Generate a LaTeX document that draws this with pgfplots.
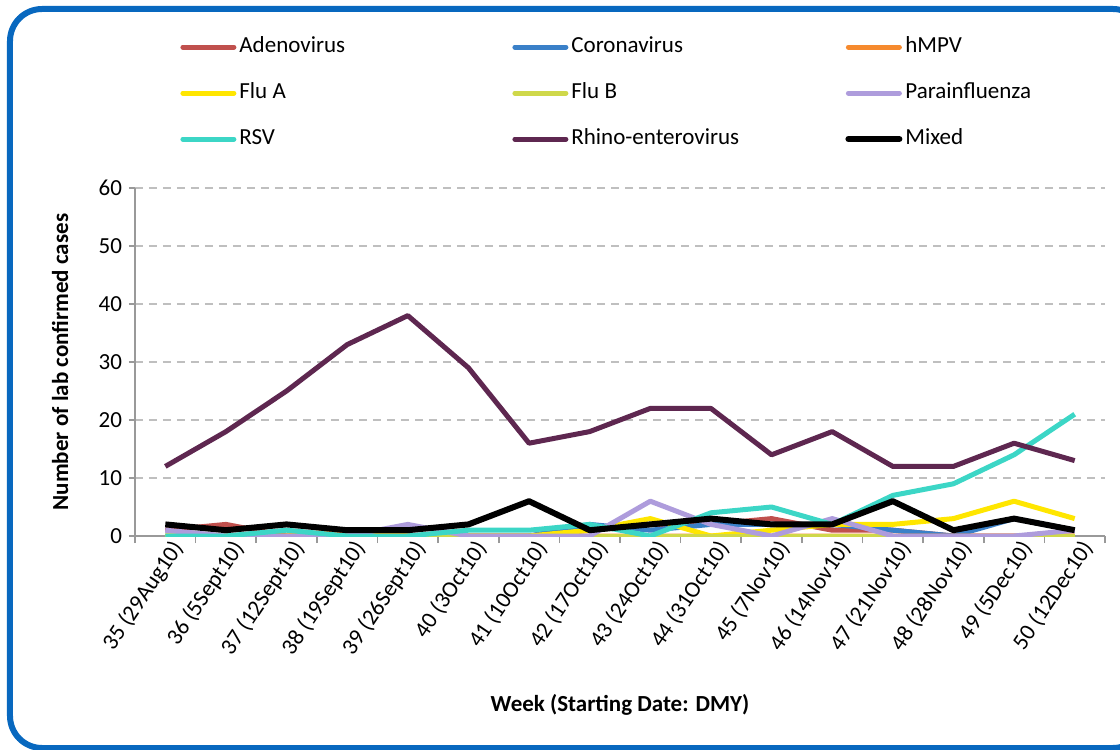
\documentclass[border=0pt]{standalone}
\usepackage{pgfplots}
\pgfplotsset{compat=1.18}
\usepackage{fontspec}
\setmainfont{Carlito}
\definecolor{cAdeno}{HTML}{C0504D}
\definecolor{cCorona}{HTML}{3A80C8}
\definecolor{cHmpv}{HTML}{F68A2E}
\definecolor{cFluA}{HTML}{FFE600}
\definecolor{cFluB}{HTML}{CFD84A}
\definecolor{cPara}{HTML}{AE9CDC}
\definecolor{cRsv}{HTML}{3CD6C6}
\definecolor{cRhino}{HTML}{5E2750}
\definecolor{cFrame}{HTML}{0868BF}

\begin{document}
\begin{tikzpicture}
\begin{axis}[
  scale only axis, width=485pt, height=174pt,
  font=\fontsize{11.5}{13}\selectfont,
  /pgf/number format/assume math mode=true,
  xmin=0.5, xmax=16.5, ymin=0, ymax=60,
  xtick={1,...,16},
  xticklabels={35 (29Aug10),36 (5Sept10),37 (12Sept10),38 (19Sept10),39 (26Sept10),40 (3Oct10),41 (10Oct10),42 (17Oct10),43 (24Oct10),44 (31Oct10),45 (7Nov10),46 (14Nov10),47 (21Nov10),48 (28Nov10),49 (5Dec10),50 (12Dec10)},
  xticklabel style={rotate=56, anchor=east, inner sep=0pt, xshift=3pt, yshift=-6pt},
  major x tick style={draw=none},
  minor xtick={0.5,1.5,...,16.5},
  minor x tick style={gray!80, line width=0.8pt},
  ytick={0,10,...,60},
  tick align=outside,
  major tick length=3pt, minor tick length=3.5pt,
  y tick style={gray!80, line width=0.8pt},
  axis x line*=bottom, axis y line*=left,
  axis line style={gray!80, line width=0.8pt, -},
  ymajorgrids, grid style={gray!50, dashed, line width=0.7pt, dash pattern=on 4pt off 3pt},
  xlabel={\bfseries Week (Starting Date: DMY)},
  xlabel style={at={(axis description cs:0.5,-0.486)}, anchor=center},
  ylabel={\bfseries Number of lab confirmed cases},
  ylabel style={at={(axis description cs:-0.0773,0.5)}, anchor=center},
  legend columns=3,
  legend cell align=left,
  legend style={at={(axis description cs:0.0464,1.445)}, anchor=north west, draw=none, fill=none,
    inner sep=0pt, row sep=9.5pt, column sep=0pt,
    nodes={text height=8pt, text depth=2.5pt, inner sep=1.5pt}},
  legend image code/.code={\draw[#1, line cap=round] (0pt,0pt) -- (25.5pt,0pt);},
  every axis plot/.append style={line width=2.5pt, line join=round, mark=none},
]
\addplot[cAdeno] coordinates {(1,1)(2,2)(3,0)(4,0)(5,0)(6,0)(7,0)(8,1)(9,2)(10,2)(11,3)(12,1)(13,1)(14,0)(15,0)(16,0)};
\addplot[cCorona] coordinates {(1,0)(2,0)(3,0)(4,0)(5,0)(6,0)(7,0)(8,2)(9,1)(10,2)(11,2)(12,2)(13,1)(14,0)(15,3)(16,1)};
\addplot[cHmpv] coordinates {(1,0)(2,0)(3,0)(4,1)(5,0)(6,0)(7,0)(8,0)(9,0)(10,0)(11,0)(12,0)(13,0)(14,0)(15,0)(16,0)};
\addplot[cFluA] coordinates {(1,0)(2,0)(3,0)(4,0)(5,0)(6,0)(7,0)(8,1)(9,3)(10,0)(11,1)(12,2)(13,2)(14,3)(15,6)(16,3)};
\addplot[cFluB] coordinates {(1,0)(2,0)(3,0)(4,0)(5,0)(6,0)(7,0)(8,0)(9,0)(10,0)(11,0)(12,0)(13,0)(14,0)(15,0)(16,0)};
\addplot[cPara] coordinates {(1,1)(2,0)(3,0)(4,0)(5,2)(6,0)(7,0)(8,0)(9,6)(10,2)(11,0)(12,3)(13,0)(14,0)(15,0)(16,1)};
\addplot[cRsv] coordinates {(1,0)(2,0)(3,1)(4,0)(5,0)(6,1)(7,1)(8,2)(9,0)(10,4)(11,5)(12,2)(13,7)(14,9)(15,14)(16,21)};
\addplot[cRhino] coordinates {(1,12)(2,18)(3,25)(4,33)(5,38)(6,29)(7,16)(8,18)(9,22)(10,22)(11,14)(12,18)(13,12)(14,12)(15,16)(16,13)};
\addplot[black, line width=3pt] coordinates {(1,2)(2,1)(3,2)(4,1)(5,1)(6,2)(7,6)(8,1)(9,2)(10,3)(11,2)(12,2)(13,6)(14,1)(15,3)(16,1)};
\legend{\makebox[135pt][l]{Adenovirus},\makebox[135.5pt][l]{Coronavirus},hMPV,
        Flu A,Flu B,Parainfluenza,
        RSV,Rhino-enterovirus,Mixed}
\end{axis}
\draw[cFrame, line width=3pt, rounded corners=16pt] (-62.5pt,-106pt) rectangle (505pt,263.5pt);
\pgfresetboundingbox
\path (-67.5pt,-107pt) rectangle (492.5pt,268pt);
\end{tikzpicture}
\end{document}
